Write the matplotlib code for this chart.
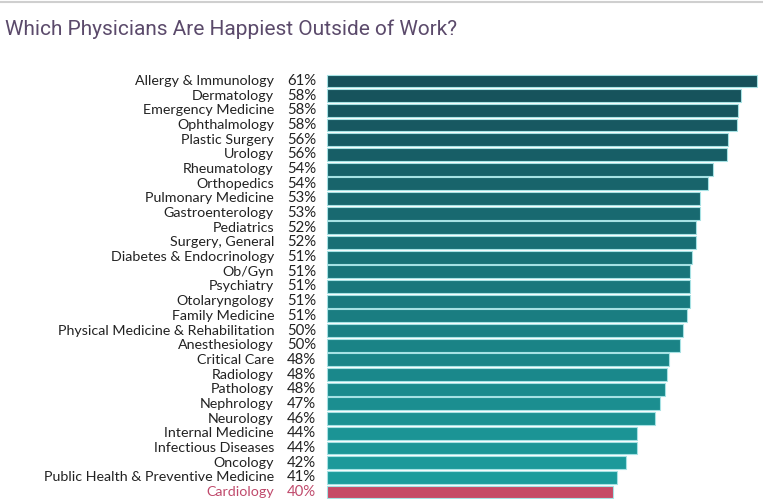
import matplotlib
matplotlib.use("Agg")
import matplotlib.pyplot as plt
from matplotlib.lines import Line2D
import numpy as np
from matplotlib.colors import to_rgb

title = "Which Physicians Are Happiest Outside of Work?"

specialties = [
    "Allergy & Immunology", "Dermatology", "Emergency Medicine", "Ophthalmology",
    "Plastic Surgery", "Urology", "Rheumatology", "Orthopedics",
    "Pulmonary Medicine", "Gastroenterology", "Pediatrics", "Surgery, General",
    "Diabetes & Endocrinology", "Ob/Gyn", "Psychiatry", "Otolaryngology",
    "Family Medicine", "Physical Medicine & Rehabilitation", "Anesthesiology",
    "Critical Care", "Radiology", "Pathology", "Nephrology", "Neurology",
    "Internal Medicine", "Infectious Diseases", "Oncology",
    "Public Health & Preventive Medicine", "Cardiology",
]
values = [
    60.5, 58.15, 57.77, 57.58, 56.32, 56.18, 54.21, 53.6,
    52.43, 52.43, 51.87, 51.83, 51.35, 51.07, 51.07, 50.98,
    50.56, 50.0, 49.66, 48.08, 47.84, 47.56, 46.77, 46.15,
    43.62, 43.62, 42.08, 40.73, 40.21,
]
pct_labels = [
    "61%", "58%", "58%", "58%", "56%", "56%", "54%", "54%",
    "53%", "53%", "52%", "52%", "51%", "51%", "51%", "51%",
    "51%", "50%", "50%", "48%", "48%", "48%", "47%", "46%",
    "44%", "44%", "42%", "41%", "40%",
]
highlight = "Cardiology"

W, H = 763, 499
fig = plt.figure(figsize=(W / 100, H / 100), dpi=100)

x0 = 326.7
px_per_pct = 7.12
xmax = 61.0
top_center = 81.0
bottom_center = 492.0
n = len(specialties)
step = (bottom_center - top_center) / (n - 1)
ax_top = top_center - step / 2
ax_bottom = bottom_center + step / 2
ax = fig.add_axes([x0 / W, 1 - ax_bottom / H, xmax * px_per_pct / W, (ax_bottom - ax_top) / H])

c_top = np.array(to_rgb("#16505a"))
c_bot = np.array(to_rgb("#1c9c9c"))
colors = []
for i, s in enumerate(specialties):
    if s == highlight:
        colors.append("#c64a66")
    else:
        t = i / (n - 2)
        colors.append(tuple(c_top * (1 - t) + c_bot * t))

y = np.arange(n)
ax.barh(y, values, height=0.88, color=colors, edgecolor="#a6e2e4", linewidth=0.8, clip_on=False)
ax.set_ylim(n - 0.5, -0.5)
ax.set_xlim(0, xmax)
ax.axis("off")

font = "Lato"
for i, (s, p) in enumerate(zip(specialties, pct_labels)):
    col = "#c04a6c" if s == highlight else "#222222"
    yy = 1 - (top_center + i * step) / H
    fig.text(274 / W, yy, s, ha="right", va="center", fontsize=10.25, color=col, family=font)
    fig.text(287 / W, yy, p, ha="left", va="center", fontsize=10.7, color=col, family=font)

fig.text(5 / W, 1 - 29 / H, title, ha="left", va="center", fontsize=15, color="#5b4a6b", family="Roboto")
fig.add_artist(Line2D([0, 1], [1 - 2 / H, 1 - 2 / H], color="#cfcfcf", lw=1.5, transform=fig.transFigure))

fig.savefig("out.png", dpi=100)
